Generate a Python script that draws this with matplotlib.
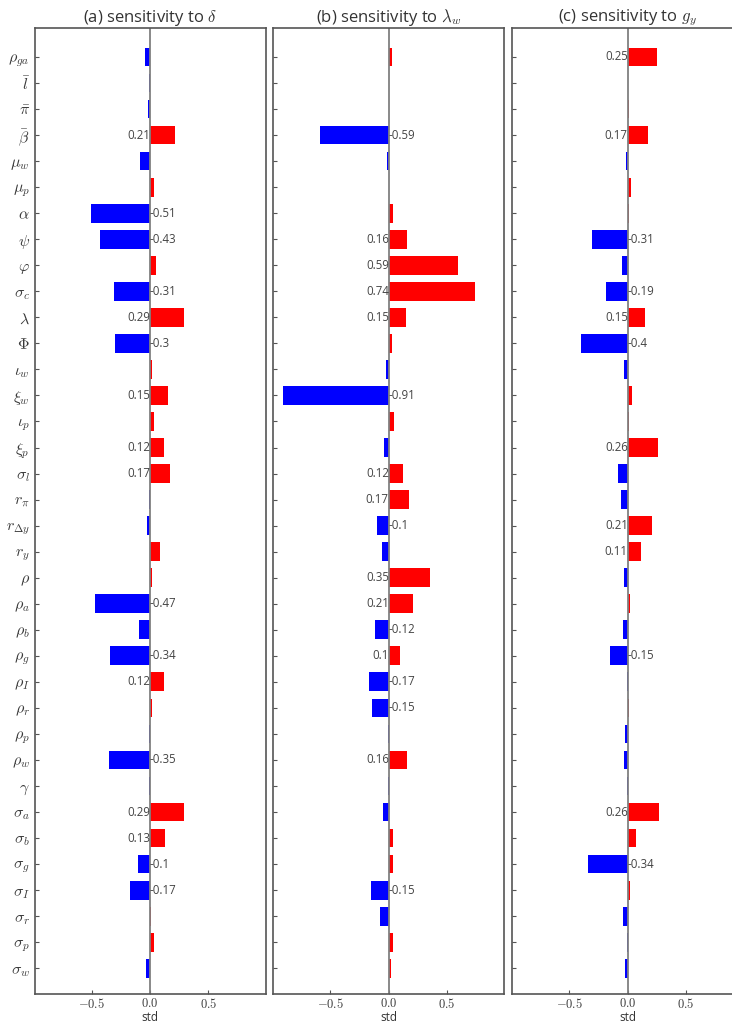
import numpy as np
import matplotlib
matplotlib.use('Agg')
import matplotlib.pyplot as plt

plt.rcParams['font.family'] = ['Open Sans', 'DejaVu Sans']
plt.rcParams['mathtext.fontset'] = 'cm'

# parameter names, top to bottom
params = [r'$\rho_{ga}$', r'$\bar{l}$', r'$\bar{\pi}$', r'$\bar{\beta}$', r'$\mu_w$', r'$\mu_p$',
          r'$\alpha$', r'$\psi$', r'$\varphi$', r'$\sigma_c$', r'$\lambda$', r'$\Phi$',
          r'$\iota_w$', r'$\xi_w$', r'$\iota_p$', r'$\xi_p$', r'$\sigma_l$', r'$r_\pi$',
          r'$r_{\Delta y}$', r'$r_y$', r'$\rho$', r'$\rho_a$', r'$\rho_b$', r'$\rho_g$',
          r'$\rho_I$', r'$\rho_r$', r'$\rho_p$', r'$\rho_w$', r'$\gamma$', r'$\sigma_a$',
          r'$\sigma_b$', r'$\sigma_g$', r'$\sigma_I$', r'$\sigma_r$', r'$\sigma_p$', r'$\sigma_w$']

sens_delta = [-0.043, -0.007, -0.017, 0.21, -0.086, 0.034,
              -0.51, -0.43, 0.05, -0.31, 0.29, -0.30,
              0.017, 0.15, 0.034, 0.12, 0.17, -0.005,
              -0.026, 0.086, 0.017, -0.47, -0.094, -0.34,
              0.124, 0.017, -0.005, -0.35, -0.005, 0.29,
              0.13, -0.10, -0.174, 0.008, 0.034, -0.034]

sens_lambda_w = [0.029, 0.003, 0.003, -0.59, -0.014, 0.003,
                 0.037, 0.16, 0.59, 0.74, 0.15, 0.029,
                 -0.023, -0.91, 0.046, -0.04, 0.12, 0.17,
                 -0.10, -0.057, 0.35, 0.21, -0.12, 0.10,
                 -0.174, -0.148, -0.003, 0.16, -0.003, -0.049,
                 0.037, 0.037, -0.15, -0.074, 0.037, 0.02]

sens_gy = [0.25, 0.003, 0.01, 0.17, -0.015, 0.028,
           0.008, -0.31, -0.049, -0.19, 0.15, -0.40,
           -0.032, 0.037, 0.006, 0.26, -0.084, -0.058,
           0.21, 0.11, -0.032, 0.02, -0.04, -0.15,
           -0.005, 0.008, -0.023, -0.032, -0.004, 0.264,
           0.072, -0.34, 0.02, -0.04, -0.004, -0.023]

titles = [r'(a) sensitivity to $\delta$', r'(b) sensitivity to $\lambda_w$',
          r'(c) sensitivity to $g_y$']

xticks = [-0.5, 0.0, 0.5]
xticklabels = [r'$-0.5$', r'$0.0$', r'$0.5$']

W, H = 732, 1023
fig = plt.figure(figsize=(W / 100, H / 100), dpi=100)

y = np.arange(len(params))[::-1]
lefts = [34.5, 273.3, 512.3]

for k, (vals, title) in enumerate(zip([sens_delta, sens_lambda_w, sens_gy], titles)):
    ax = fig.add_axes([lefts[k] / W, 28.7 / H, 231 / W, 966 / H])
    vals = np.array(vals)
    colors = ['red' if v > 0 else 'blue' for v in vals]
    ax.barh(y, vals, height=0.72, color=colors)
    ax.axvline(0, color='gray', lw=1.3)
    for yi, v in zip(y, vals):
        if abs(v) >= 0.1:
            ax.text(0, yi, str(round(v, 2)), ha='right' if v > 0 else 'left',
                    va='center', fontsize=8.3, color='#444444')
    ax.set_xlim(-0.99, 0.99)
    ax.set_ylim(-1, 36.1)
    ax.set_xticks(xticks)
    ax.set_xticklabels(xticklabels, fontsize=9)
    ax.set_yticks(y)
    if k == 0:
        ax.set_yticklabels(params, fontsize=11.5)
    else:
        ax.set_yticklabels([])
    ax.tick_params(direction='in', length=3, color='#555555', labelcolor='#3a3a3a')
    ax.tick_params(axis='x', pad=2)
    for s in ax.spines.values():
        s.set_color('#555555')
        s.set_linewidth(1.2)
    ax.set_title(title, fontsize=12, color='#333333', pad=4)
    ax.set_xlabel('std', fontsize=8.5, color='#333333', labelpad=0)

fig.savefig('out.png', dpi=100)
